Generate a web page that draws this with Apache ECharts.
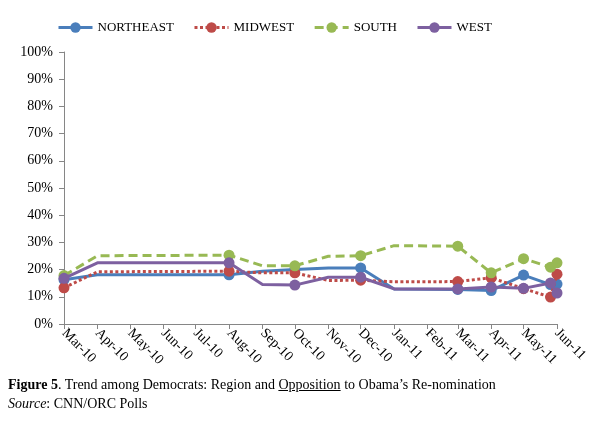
<!DOCTYPE html>
<html>
<head>
<meta charset="utf-8">
<script src="https://cdn.jsdelivr.net/npm/echarts@6/dist/echarts.min.js"></script>
<style>
html,body{margin:0;padding:0;background:#fff;}
#chart{position:absolute;left:0;top:0;width:602px;height:421px;}
#caption{position:absolute;left:8px;top:375px;font-family:'Liberation Serif','Times New Roman',serif;font-size:14px;line-height:19px;color:#000;white-space:nowrap;}
</style>
</head>
<body>
<div id="chart"></div>
<div id="caption"><b>Figure 5</b>. Trend among Democrats: Region and <u>Opposition</u> to Obama’s Re-nomination<br><i>Source</i>: CNN/ORC Polls</div>
<script>
// Poll dates (markers shown only where showMarker = 1)
const pollDates = ['2010-03-01','2010-04-01','2010-08-01','2010-09-01','2010-10-01','2010-11-01','2010-12-01','2011-01-01','2011-03-01','2011-04-01','2011-05-01','2011-05-26','2011-06-01'];
const showMarker = [1,0,1,0,1,0,1,0,1,1,1,1,1];
const seriesNames = ['NORTHEAST','MIDWEST','SOUTH','WEST'];
const northeast = [16.3, 18.1, 18.1, 19.4, 20.0, 20.6, 20.6, 12.9, 12.7, 12.3, 18.0, 14.5, 14.7];
const midwest   = [13.3, 19.2, 19.4, 18.8, 18.8, 16.0, 16.1, 15.5, 15.6, 17.0, 13.0, 9.9, 18.3];
const south     = [17.8, 25.1, 25.3, 21.4, 21.4, 24.9, 25.1, 28.8, 28.6, 18.8, 24.0, 20.9, 22.5];
const west      = [16.8, 22.5, 22.5, 14.5, 14.3, 17.2, 17.2, 12.9, 12.9, 13.6, 13.1, 15.1, 11.4];
const monthNames = ['Jan','Feb','Mar','Apr','May','Jun','Jul','Aug','Sep','Oct','Nov','Dec'];
const yTicks = [0,10,20,30,40,50,60,70,80,90,100];

const colors = ['#4a7ebb','#be4b48','#98b954','#7d60a0'];
const lineTypes = ['solid',[3,2.5],[9,5],'solid'];
const FONT = "'Liberation Serif','Times New Roman',serif";

function build(values){
  return pollDates.map((d,i)=>({
    value:[d, values[i]],
    symbol: showMarker[i] ? 'circle' : 'none'
  }));
}
const allValues = [northeast, midwest, south, west];
const DAY = 86400000;

const chart = echarts.init(document.getElementById('chart'));
chart.setOption({
  animation:false,
  color: colors,
  legend:{
    top: 16, left: 52,
    itemWidth: 34, itemHeight: 13, itemGap: 19,
    lineStyle:{width:3},
    textStyle:{fontFamily:FONT, fontSize:13, color:'#000'},
    data: seriesNames
  },
  grid:{left:64, right:45, top:52, bottom:97, containLabel:false},
  xAxis:{
    type:'time',
    min:'2010-03-01', max:'2011-06-01',
    minInterval: 28*DAY, maxInterval: 31*DAY,
    splitLine:{show:false},
    axisLine:{show:true, lineStyle:{color:'#868686', width:1}},
    axisTick:{show:true, length:5, lineStyle:{color:'#868686'}},
    axisLabel:{
      rotate:-45, interval:0, hideOverlap:false, margin:7,
      fontFamily:FONT, fontSize:14, color:'#000',
      showMinLabel:true, showMaxLabel:true,
      formatter:function(v){ const d=new Date(v); return monthNames[d.getMonth()]+'-'+String(d.getFullYear()).slice(2); }
    }
  },
  yAxis:{
    type:'value', min:yTicks[0], max:yTicks[yTicks.length-1], interval:10,
    splitLine:{show:false},
    axisLine:{show:true, lineStyle:{color:'#868686', width:1}},
    axisTick:{show:true, length:5, lineStyle:{color:'#868686'}},
    axisLabel:{fontFamily:FONT, fontSize:14, color:'#000', margin:11, formatter:'{value}%'}
  },
  series: seriesNames.map((n,i)=>({
    name:n, type:'line',
    data: build(allValues[i]),
    symbol:'circle',
    symbolSize:11,
    showAllSymbol:true,
    lineStyle:{width:3, type:lineTypes[i], cap:'butt', color:colors[i]},
    itemStyle:{color:colors[i]},
    z: 2+i
  }))
});
</script>
</body>
</html>
